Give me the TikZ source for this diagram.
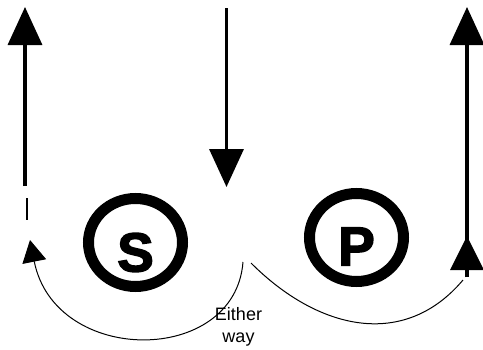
\documentclass[tikz,border=0pt]{standalone}
\usepackage{fontspec}
\setmainfont{Liberation Sans}
\newfontfamily\heavyfont[BoldFeatures={FakeBold=2.5}]{Liberation Sans}
\usetikzlibrary{arrows.meta,shapes.geometric}

\begin{document}
\begin{tikzpicture}[x=1pt, y=-1pt,
  flow/.style={line width=3.5pt, -{Triangle[length=38pt, width=34pt]}},
  loop/.style={line width=1pt},
  ring/.style={ellipse, draw, line width=11pt, minimum width=94pt, minimum height=88pt, inner sep=0pt},
  letter/.style={font=\heavyfont\fontsize{55}{55}\selectfont\bfseries, inner sep=0pt}]
\useasboundingbox (0,0) rectangle (483,349);

  % circles with letters
  \node[ring] (S) at (135.5,242.5) {};
  \node[letter] (Slab) at ([yshift=-10pt]S.center) {S};
  \node[ring] (P) at (356.5,237.5) {};
  \node[letter] (Plab) at ([yshift=-9pt]P.center) {P};

  % end points
  \coordinate (lbot) at (25,186);
  \coordinate (ltop) at (25,7);
  \coordinate (mtop) at (226.5,8);
  \coordinate (mbot) at (226.5,187);
  \coordinate (rbot) at (467,277);
  \coordinate (rmid) at (467,236);
  \coordinate (rtop) at (467,7);
  \coordinate (dasha) at (27,198);
  \coordinate (dashb) at (27,220);
  \coordinate (sstart) at (243,262);
  \coordinate (send) at (30,240);
  \coordinate (pstart) at (251,263);
  \coordinate (pend) at (463,280);

  % straight arrows
  \draw[flow] (lbot) -- (ltop);
  \draw[flow] (mtop) -- (mbot);
  \draw[flow] (rbot) -- (rtop);
  \draw[line width=3.5pt, -{Triangle[length=34pt, width=33pt]}] (rbot) -- (rmid);
  \draw[line width=1.2pt] (dasha) -- (dashb);

  % curved arrows
  \draw[loop, -{Triangle[length=22pt, width=24pt]}] (sstart) .. controls (235,366) and (55,366) .. (send);
  \draw[loop] (pstart) .. controls (318,330) and (404,350) .. (pend);

  \node[align=center, inner sep=0pt, font=\fontsize{18}{22}\selectfont] (way) at (238.5,327) {Either\\way};
\end{tikzpicture}
\end{document}
